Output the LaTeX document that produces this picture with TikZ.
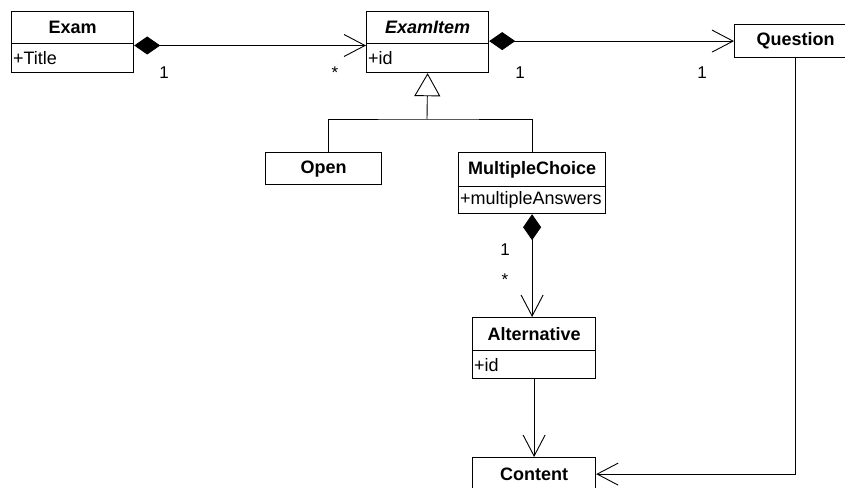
\documentclass[tikz,border=0pt]{standalone}
\usepackage{fontspec}
\setmainfont{Liberation Sans}
\usetikzlibrary{arrows.meta}

\tikzset{
  classhead/.style={draw, line width=1.2pt, inner sep=0pt, anchor=north west,
    font=\bfseries\fontsize{18}{21}\selectfont},
  classattr/.style={draw, line width=1.2pt, inner xsep=1.5pt, inner ysep=0pt,
    anchor=north west, align=left, font=\fontsize{18}{21}\selectfont},
  conn/.style={line width=0.9pt, black},
  owns/.style={conn, {Diamond[length=26pt,width=18pt]}-{Straight Barb[length=21pt,width=22pt]}},
  assoc/.style={conn, -{Straight Barb[length=21pt,width=22pt]}},
  inherit/.style={conn, -{Triangle[open,fill=white,length=23pt,width=26pt]}},
  mult/.style={anchor=base, inner sep=0pt, font=\fontsize{17}{19}\selectfont},
}

\begin{document}
\begin{tikzpicture}[x=1pt, y=-1pt]
  \useasboundingbox (0,0) rectangle (845,487);
  \fill[white] (0,0) rectangle (845,487);
  \clip (0,0) rectangle (845,487);

  % classes
  \node[classhead, minimum width=122pt, minimum height=32pt] (exam) at (11,11) {Exam};
  \node[classattr, text width=119pt, minimum height=29pt] (examA) at (11,43) {+Title};

  \node[classhead, minimum width=122pt, minimum height=32pt] (item) at (366,11) {\itshape ExamItem};
  \node[classattr, text width=119pt, minimum height=29pt] (itemA) at (366,43) {+id};

  \node[classhead, minimum width=122pt, minimum height=33pt] (q) at (734,24) {Question};

  \node[classhead, minimum width=116pt, minimum height=32pt] (open) at (265,152) {Open};

  \node[classhead, minimum width=147pt, minimum height=34pt] (mc) at (458,152) {MultipleChoice};
  \node[classattr, text width=144pt, minimum height=27pt] (mcA) at (458,186) {+multipleAnswers};

  \node[classhead, minimum width=123pt, minimum height=33pt] (alt) at (472,317) {Alternative};
  \node[classattr, text width=120pt, minimum height=28pt] (altA) at (472,350) {+id};

  \node[classhead, minimum width=123pt, minimum height=33pt] (content) at (472,457) {Content};

  % compositions
  \draw[owns] ([yshift=-1.3pt]exam.south east) -- ([yshift=-1.3pt]item.south west);
  \draw[owns] (item.south east |- q.west) -- (q.west);
  \draw[owns] (mcA.south) -- (mcA.south |- alt.north);

  % generalization
  \coordinate (gen) at (427,119);
  \draw[conn] ([xshift=5pt]open.north) |- (gen) -| (mc.north);
  \draw[inherit] (gen) -- (itemA.south);

  % associations
  \draw[assoc] (altA.south) -- (content.north);
  \draw[assoc] (q.south) |- (content.east);

  % multiplicities
  \node[mult] (m1) at (164,78) {1};
  \node[mult] (m2) at (335,78) {*};
  \node[mult] (m3) at (520,78) {1};
  \node[mult] (m4) at (702,78) {1};
  \node[mult] (m5) at (505,255) {1};
  \node[mult] (m6) at (505,285) {*};
\end{tikzpicture}
\end{document}
